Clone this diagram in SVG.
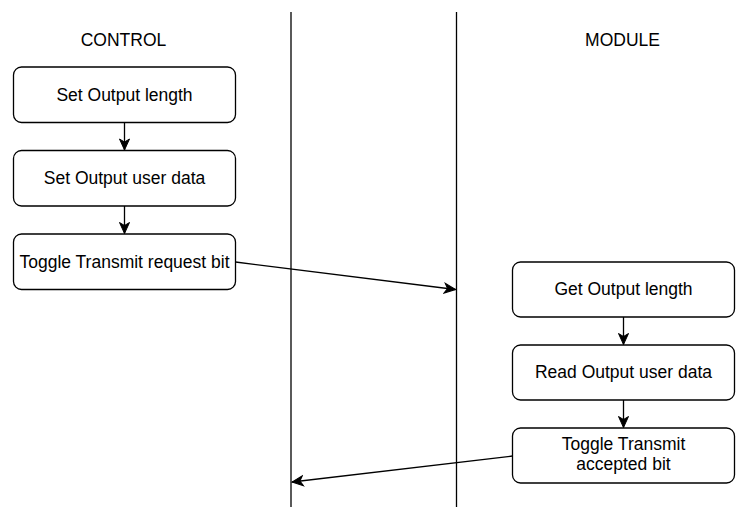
<svg xmlns="http://www.w3.org/2000/svg" width="739" height="507" viewBox="0 0 739 507">
  <style>
    .box { fill: #ffffff; stroke: #000000; stroke-width: 1.3; }
    .lbl { font-family: "Liberation Sans", Arial, sans-serif; font-size: 17.5px; fill: #000000; text-anchor: middle; }
    .lane { stroke: #000000; stroke-width: 1.3; fill: none; }
    .edge { stroke: #000000; stroke-width: 1.3; fill: none; marker-end: url(#arrow); }
  </style>
  <defs>
    <marker id="arrow" markerUnits="userSpaceOnUse" markerWidth="14" markerHeight="14" viewBox="-12 -7 14 14" refX="0" refY="0" orient="auto">
      <path d="M0,0 L-11,-5 L-8,0 L-11,5 Z" fill="#000000" stroke="#000000" stroke-width="1"/>
    </marker>
  </defs>
  <rect width="739" height="507" fill="#ffffff"/>

  <!-- swimlane separators -->
  <g id="lanes">
    <line class="lane" x1="291" y1="12" x2="291" y2="507"/>
    <line class="lane" x1="456.5" y1="12" x2="456.5" y2="507"/>
  </g>

  <!-- lane headings -->
  <g id="heading-control">
    <text class="lbl" x="123.5" y="45.5">CONTROL</text>
  </g>
  <g id="heading-module">
    <text class="lbl" x="622.5" y="45.5">MODULE</text>
  </g>

  <!-- control side steps -->
  <g id="set-length">
    <rect class="box" x="13.5" y="67" width="222" height="55.5" rx="8"/>
    <text class="lbl" x="124.5" y="100.5">Set Output length</text>
  </g>
  <g id="set-data">
    <rect class="box" x="13.5" y="150.5" width="222" height="55.5" rx="8"/>
    <text class="lbl" x="124.5" y="184">Set Output user data</text>
  </g>
  <g id="toggle-request">
    <rect class="box" x="13.5" y="234" width="222" height="55.5" rx="8"/>
    <text class="lbl" x="124.5" y="267.5">Toggle Transmit request bit</text>
  </g>

  <!-- module side steps -->
  <g id="get-length">
    <rect class="box" x="512.5" y="262" width="222" height="55" rx="8"/>
    <text class="lbl" x="623.5" y="295">Get Output length</text>
  </g>
  <g id="read-data">
    <rect class="box" x="512.5" y="345" width="222" height="55" rx="8"/>
    <text class="lbl" x="623.5" y="378">Read Output user data</text>
  </g>
  <g id="toggle-accepted">
    <rect class="box" x="512.5" y="428" width="222" height="55" rx="8"/>
    <text class="lbl" x="623.5" y="450">Toggle Transmit</text>
    <text class="lbl" x="623.5" y="469.5">accepted bit</text>
  </g>

  <!-- connectors -->
  <g id="connectors">
    <line class="edge" x1="124.5" y1="122.5" x2="124.5" y2="150"/>
    <line class="edge" x1="124.5" y1="206" x2="124.5" y2="233.5"/>
    <line class="edge" x1="235.5" y1="262" x2="455.5" y2="289.5"/>
    <line class="edge" x1="623.5" y1="317" x2="623.5" y2="344.5"/>
    <line class="edge" x1="623.5" y1="400" x2="623.5" y2="427.5"/>
    <line class="edge" x1="512.5" y1="456" x2="292" y2="482"/>
  </g>
</svg>
